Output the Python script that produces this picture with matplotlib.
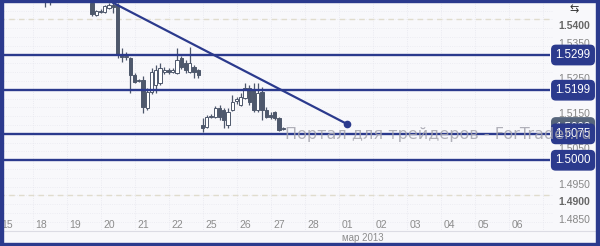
import numpy as np
import matplotlib
matplotlib.use("Agg")
import matplotlib.pyplot as plt
from matplotlib.patches import Rectangle

# candle index (8 candles per trading day, 0 = first candle of the 15th)
k = [9, 10,
     20, 21, 22, 23, 24, 25, 26, 27, 28, 29, 30, 31, 32, 33, 34, 35, 36, 37,
     38, 39, 40, 41, 42, 43, 44, 45,
     46, 47, 48, 49, 50, 51, 52, 53, 54, 55, 56, 57, 58, 59, 60, 61, 62, 63, 64, 65]
o = [1.5470, 1.5468,
     1.5447, 1.5413, 1.5422, 1.5421, 1.5432, 1.5441, 1.5441, 1.5299, 1.5293, 1.5290,
     1.5242, 1.5225, 1.5228, 1.5148, 1.5194, 1.5214, 1.5219, 1.5251,
     1.5256, 1.5251, 1.5248, 1.5290, 1.5276, 1.5251, 1.5265, 1.5256,
     1.5100, 1.5094, 1.5123, 1.5123, 1.5148, 1.5143, 1.5100, 1.5143, 1.5168, 1.5157,
     1.5177, 1.5205, 1.5199, 1.5143, 1.5194, 1.5143, 1.5128, 1.5137, 1.5120, 1.5090]
h = [1.5480, 1.5476,
     1.5452, 1.5427, 1.5430, 1.5441, 1.5447, 1.5447, 1.5447, 1.5319, 1.5308, 1.5293,
     1.5248, 1.5231, 1.5239, 1.5205, 1.5262, 1.5271, 1.5276, 1.5265,
     1.5262, 1.5262, 1.5319, 1.5296, 1.5285, 1.5322, 1.5271, 1.5259,
     1.5120, 1.5129, 1.5131, 1.5154, 1.5157, 1.5148, 1.5148, 1.5185, 1.5180, 1.5191,
     1.5219, 1.5214, 1.5219, 1.5219, 1.5208, 1.5151, 1.5137, 1.5140, 1.5123, 1.5095]
l = [1.5436, 1.5442,
     1.5410, 1.5410, 1.5418, 1.5418, 1.5430, 1.5418, 1.5290, 1.5279, 1.5285, 1.5191,
     1.5219, 1.5222, 1.5134, 1.5143, 1.5188, 1.5191, 1.5214, 1.5245,
     1.5245, 1.5248, 1.5245, 1.5259, 1.5248, 1.5248, 1.5234, 1.5234,
     1.5080, 1.5092, 1.5120, 1.5120, 1.5114, 1.5092, 1.5092, 1.5140, 1.5160, 1.5154,
     1.5174, 1.5157, 1.5137, 1.5137, 1.5114, 1.5120, 1.5118, 1.5114, 1.5083, 1.5086]
c = [1.5462, 1.5472,
     1.5415, 1.5424, 1.5425, 1.5438, 1.5441, 1.5436, 1.5299, 1.5293, 1.5297, 1.5242,
     1.5222, 1.5228, 1.5151, 1.5194, 1.5251, 1.5256, 1.5262, 1.5256,
     1.5251, 1.5256, 1.5285, 1.5265, 1.5256, 1.5276, 1.5251, 1.5242,
     1.5092, 1.5123, 1.5126, 1.5148, 1.5123, 1.5114, 1.5137, 1.5165, 1.5174, 1.5180,
     1.5205, 1.5165, 1.5143, 1.5191, 1.5143, 1.5123, 1.5124, 1.5120, 1.5086, 1.5093]

levels = [1.5299, 1.5199, 1.5075, 1.5000]
last_price = 1.5093
trend_x = [3.125, 10.0]
trend_y = [1.5447, 1.5103]

day_labels = ['15', '18', '19', '20', '21', '22', '25', '26', '27', '28',
              '01', '02', '03', '04', '05', '06']
price_ticks = [1.5400, 1.5350, 1.5300, 1.5250, 1.5200, 1.5150, 1.5100, 1.5050,
               1.5000, 1.4950, 1.4900, 1.4850]

navy = '#2b3a8d'
candle = '#4e586c'
W, H = 600, 246

fig = plt.figure(figsize=(6, 2.46), dpi=100)
fig.patch.set_facecolor('#f8f8fb')
ax = fig.add_axes([3 / W, (H - 231) / H, 593 / W, 229 / H])
ax.set_facecolor('#f8f8fb')
ax.set_xlim(-4 / 34, 589 / 34)
ax.set_ylim(1.47990, 1.54496)
ax.set_xticks([])
ax.set_yticks([])
for s in ['top', 'left', 'right']:
    ax.spines[s].set_visible(False)
ax.spines['bottom'].set_color('#dcdce4')
ax.spines['bottom'].set_linewidth(0.8)

x_end = 543 / 34

# background grid
for p in np.arange(1.4800, 1.5451, 0.0025):
    ax.hlines(p, -1, x_end + 0.1, color='#e9e9f0', lw=0.6, ls=':', zorder=0)
for i in range(1, 17):
    ax.vlines(i - 0.235, 1.4700, 1.5500, color='#e6e6ee', lw=0.6, ls=':', zorder=0)
for p in [1.5400, 1.4900]:
    ax.hlines(p, -1, x_end + 0.1, color='#e0dccd', lw=1.0, ls=(0, (4, 3)), zorder=1)

# candles
w = 0.1
for ki, oi, hi, li, ci in zip(k, o, h, l, c):
    x = ki / 8
    ax.vlines(x, li, hi, color=candle, lw=0.9, zorder=3)
    bottom = min(oi, ci)
    height = max(abs(ci - oi), 0.0003)
    face = candle if ci < oi else 'white'
    ax.add_patch(Rectangle((x - w / 2, bottom), w, height, facecolor=face,
                           edgecolor=candle, lw=0.7, zorder=4))

# horizontal levels and trend line
for p in levels:
    ax.hlines(p, -1, x_end, color=navy, lw=1.7, zorder=5)
ax.plot(trend_x, trend_y, color=navy, lw=1.6, zorder=5)
ax.plot(trend_x[-1], trend_y[-1], 'o', color=navy, ms=4.5, zorder=6)

# price axis labels
lab_x = 565 / 34
for p in price_ticks:
    bold = p in (1.5400, 1.4900)
    ax.text(lab_x + 0.06, p - 0.0019, f'{p:.4f}', fontsize=7.5, ha='center', va='center',
            color='#666666' if bold else '#868686', fontweight='bold' if bold else 'normal',
            family='Liberation Sans', zorder=7)

box = dict(boxstyle='round,pad=0.32,rounding_size=0.35', fc=navy, ec=navy)
ax.text(lab_x + 0.03, last_price, f'{last_price:.4f}', fontsize=8.3, ha='center', va='center',
        color='white', family='Liberation Sans', zorder=8,
        bbox=dict(boxstyle='round,pad=0.32,rounding_size=0.35', fc='#56657c', ec='#56657c'))
for p in levels:
    ax.text(lab_x + 0.03, p, f'{p:.4f}', fontsize=8.3, ha='center', va='center',
            color='white', family='Liberation Sans', zorder=9, bbox=box)

# watermark, drawn over everything
ax.text(8.18, 1.5072, 'Портал для трейдеров - ForTrader.ru', fontsize=11.5,
        color='#a4a4ae', alpha=0.85, ha='left', va='center', zorder=20,
        family='DejaVu Sans')

# icon top right
ax.text(lab_x + 0.06, 1.5429, '⇆', fontsize=8, ha='center', va='center', color='#333333',
        family='DejaVu Sans', zorder=9)

# date labels
for i, d in enumerate(day_labels):
    ax.text(i, 1.4816, d, fontsize=7.5, ha='center', va='center', color='#8c8c8c',
            family='Liberation Sans', zorder=7)
fig.text(342 / W, 1 - 238 / H, 'мар 2013', fontsize=7, ha='left', va='center',
         color='#8c8c8c', family='Liberation Sans')

# outer frame
fig.add_artist(Rectangle((0, 0), 3 / W, 1, transform=fig.transFigure, color=navy))
fig.add_artist(Rectangle((596 / W, 0), 4 / W, 1, transform=fig.transFigure, color=navy))
fig.add_artist(Rectangle((0, 1 - 2 / H), 1, 2 / H, transform=fig.transFigure, color=navy))
fig.add_artist(Rectangle((0, 0), 1, 3 / H, transform=fig.transFigure, color=navy))

fig.savefig('out.png', dpi=100, facecolor=fig.get_facecolor())
